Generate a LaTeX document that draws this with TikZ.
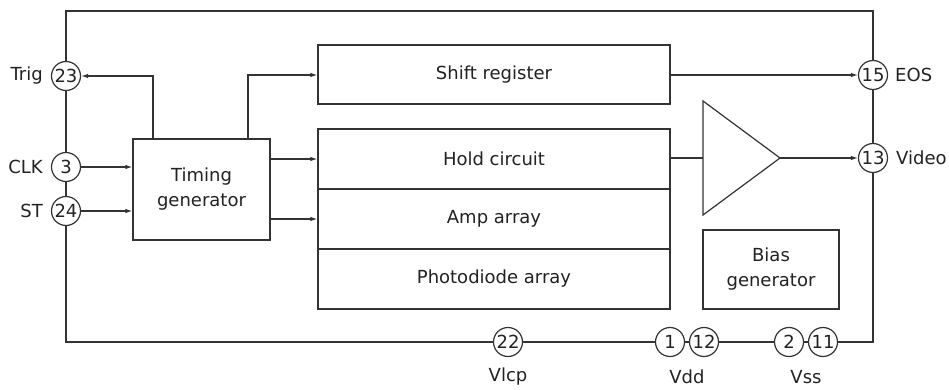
\documentclass[tikz,border=0pt]{standalone}
\usepackage{fontspec}
\setmainfont{DejaVu Sans}
\usetikzlibrary{arrows.meta}
\definecolor{ln}{HTML}{333333}
\definecolor{tx}{HTML}{222222}
\begin{document}
\begin{tikzpicture}[x=1pt,y=-1pt,
  every node/.style={text=tx},
  wire/.style={draw=ln,line width=1.2pt},
  arr/.style={wire,-{Latex[length=7pt,width=4.5pt]}},
  blk/.style={draw=ln,line width=1.2pt,inner sep=0pt,font=\fontsize{18}{25}\selectfont,align=center},
  pin/.style={circle,draw=ln,line width=1.2pt,fill=white,minimum size=29pt,inner sep=0pt,font=\fontsize{18}{18}\selectfont},
  lbl/.style={inner sep=0pt,font=\fontsize{18}{18}\selectfont}]
\useasboundingbox (0,0) rectangle (949,390);
\fill[white] (0,0) rectangle (949,390);
% package outline
\draw[wire] (66,11) rectangle (873,342);
% blocks
\node[blk,minimum width=352pt,minimum height=59pt] (shift) at (494,74.5) {Shift register};
\node[blk,minimum width=352pt,minimum height=60pt] (hold) at (494,159) {Hold circuit};
\node[blk,minimum width=352pt,minimum height=60pt] (amp) at (494,219) {Amp array};
\node[blk,minimum width=352pt,minimum height=60pt] (pd) at (494,279) {Photodiode array};
\node[blk,minimum width=137pt,minimum height=101pt] (tg) at (201.5,189.5) {Timing\\generator};
\node[blk,minimum width=136pt,minimum height=79pt] (bias) at (771,269.5) {Bias\\generator};
% amplifier
\coordinate (ampin) at (703,158);
\coordinate (ampout) at (780,158);
\draw[wire,line join=miter] (703,101) -- (703,215) -- (ampout) -- cycle;
% pins
\node[pin] (p23) at (66,76) {23};
\node[pin] (p3) at (66,167) {3};
\node[pin] (p24) at (66,211) {24};
\node[pin] (p15) at (873,75) {15};
\node[pin] (p13) at (873,158) {13};
\node[pin] (p22) at (508,342) {22};
\node[pin] (p1) at (670,342) {1};
\node[pin] (p12) at (704,342) {12};
\node[pin] (p2) at (789,342) {2};
\node[pin] (p11) at (823,342) {11};
% pin labels
\node[lbl,anchor=east] (lt) at (43,76) {Trig};
\node[lbl,anchor=east] (lc) at (43,167) {CLK};
\node[lbl,anchor=east] (ls) at (43,211) {ST};
\node[lbl,anchor=west] (le) at (895,75) {EOS};
\node[lbl,anchor=west] (lv) at (896,158) {Video};
\node[lbl] (lvl) at (508,377) {Vlcp};
\node[lbl] (lvd) at (687,377) {Vdd};
\node[lbl] (lvs) at (806,377) {Vss};
% connections
\draw[arr] (tg.north -| 153,0) -- (153,76) -- (p23.east);
\draw[arr] (tg.north -| 248,0) -- (248,75) -- (shift.west |- 0,75);
\draw[arr] (tg.east |- 0,159) -- (hold.west);
\draw[arr] (tg.east |- 0,219) -- (amp.west);
\draw[arr] (p3.east) -- (tg.west |- p3);
\draw[arr] (p24.east) -- (tg.west |- p24);
\draw[arr] (shift.east |- p15) -- (p15.west);
\draw[wire] (hold.east |- ampin) -- (ampin);
\draw[arr] (ampout) -- (p13.west);
\end{tikzpicture}
\end{document}
